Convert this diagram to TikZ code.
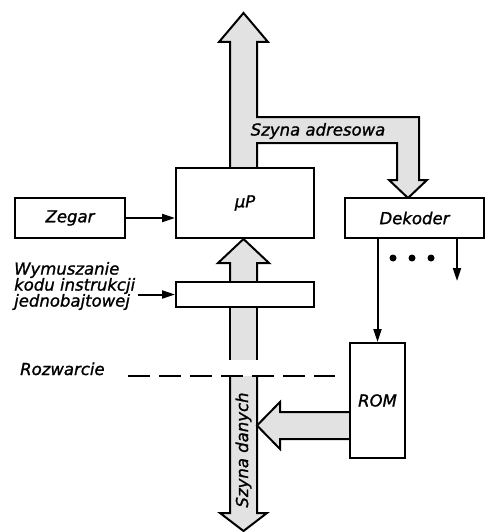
\documentclass[tikz,border=0pt]{standalone}
\usepackage{fontspec}
\setmainfont{DejaVu Sans}
\newfontfamily\diagfam[FakeBold=1.2]{DejaVu Sans}
\usetikzlibrary{arrows.meta,positioning}
\definecolor{busgray}{HTML}{E2E2E2}
\newcommand{\diagfont}{\diagfam\fontsize{16.5}{16}\selectfont\itshape}

\begin{document}
\begin{tikzpicture}[x=1pt, y=-1pt,
  box/.style={draw, line width=2pt, fill=white, inner sep=0pt, font=\diagfont},
  txt/.style={inner sep=0pt, font=\diagfont},
  bus/.style={draw, line width=2pt, fill=busgray, line join=miter},
  arr/.style={-{Triangle[length=13pt,width=8pt]}, line width=2pt},
  cut/.style={line width=2pt, dash pattern=on 22pt off 9pt}]
  \useasboundingbox (0,0) rectangle (488,532);
  % buses first, boxes on top
  \filldraw[bus] (230,168) -- (230,42) -- (219,42) -- (243.5,13) -- (268,42) -- (257,42)
    -- (257,117) -- (419,117) -- (419,180) -- (427,180) -- (408,198) -- (389,180)
    -- (397,180) -- (397,143) -- (257,143) -- (257,168);
  \filldraw[bus] (230,282) -- (230,263) -- (218,263) -- (243.5,239) -- (269,263) -- (257,263) -- (257,282);
  \fill[busgray] (230,307) rectangle (257,360);
  \draw[line width=2pt] (230,307) -- (230,360) (257,307) -- (257,360);
  \filldraw[bus] (230,376) -- (230,513) -- (220,513) -- (243.5,531) -- (267,513) -- (257,513) -- (257,376);
  \filldraw[bus] (350,412) -- (280,412) -- (280,402) -- (257,425.5) -- (280,449) -- (280,439) -- (350,439);
  \node[txt] (adr) at (318,131) {Szyna adresowa};
  \node[txt, rotate=90] (dan) at (243.5,450) {Szyna danych};
  % blocks
  \node[box, minimum width=138pt, minimum height=70pt] (mp) at (245,203) {μP};
  \node[box, minimum width=110pt, minimum height=40pt] (zegar) at (70,218) {Zegar};
  \node[box, minimum width=139pt, minimum height=40pt] (dek) at (414.5,218) {Dekoder};
  \node[box, minimum width=138pt, minimum height=25pt] (wym) at (245,294.5) {};
  \node[box, minimum width=55pt, minimum height=115pt] (rom) at (377.5,400.5) {ROM};
  \node[txt, align=left, anchor=west] (wymtxt) at (14,286) {Wymuszanie\\kodu instrukcji\\jednobajtowej};
  \node[txt, anchor=base west] (roz) at (20,375) {Rozwarcie};
  % connections
  \draw[arr] (zegar.east) -- (zegar.east -| mp.west);
  \draw[arr] ([xshift=3pt]wymtxt.east |- wym.west) -- (wym.west);
  \draw[arr] (rom.north |- dek.south) -- (rom.north);
  \draw[arr] ([xshift=42.5pt]dek.south) -- ++(0,42);
  \foreach \dx in {393,412,431}
    \fill (\dx,258) circle (3.5pt);
  \draw[cut] (128,376) -- (335,376);
\end{tikzpicture}
\end{document}
